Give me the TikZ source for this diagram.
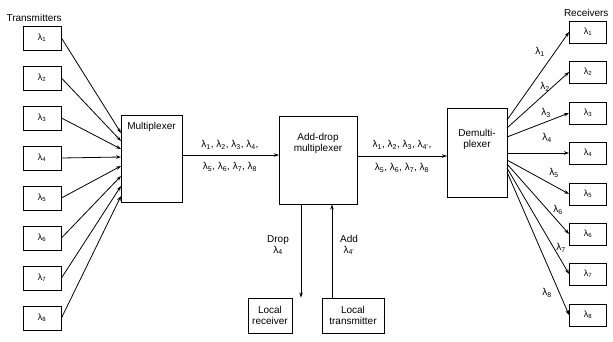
\documentclass[tikz,border=0pt]{standalone}
\usepackage{fontspec}
\setmainfont{Liberation Sans}
\usetikzlibrary{arrows.meta}
\newcommand{\lam}[1]{λ\textsubscript{#1}}
\begin{document}
\begin{tikzpicture}[x=1pt,y=-1pt,
  every node/.style={font=\fontsize{10}{11}\selectfont},
  box/.style={draw,line width=0.9pt,inner sep=0pt},
  txbox/.style={box,minimum width=38pt,minimum height=24pt},
  rxbox/.style={box,minimum width=37pt,minimum height=22pt},
  conn/.style={line width=0.8pt,-{Stealth[length=5pt,width=3.5pt]}},
  lbl/.style={inner sep=1pt}]
\useasboundingbox (0,0) rectangle (613,341);
% titles
\node[anchor=west] (ttitle) at (3,18) {Transmitters};
\node[anchor=east] (rtitle) at (612,13) {Receivers};
% main boxes
\node[box,minimum width=61pt,minimum height=87pt] (mux) at (151.5,158.5) {};
\node[anchor=north,lbl] (muxl) at (151.5,121) {Multiplexer};
\node[box,minimum width=78pt,minimum height=88pt] (adm) at (318,160) {};
\node[anchor=north,align=center,lbl] (adml) at (318,132) {Add-drop\\multiplexer};
\node[box,minimum width=60pt,minimum height=89pt] (dmx) at (477,152.5) {};
\node[anchor=north,align=center,lbl] (dmxl) at (477,128) {Demulti-\\plexer};
\node[box,minimum width=44pt,minimum height=35pt,align=center] (lrx) at (270,315.5) {Local\\receiver};
\node[box,minimum width=62pt,minimum height=35pt,align=center] (ltx) at (353,315.5) {Local\\transmitter};
% transmitters
\foreach \i/\ey in {1/133,2/141,3/149,4/157,5/166,6/176,7/186,8/196}{
  \node[txbox,font=\fontsize{9}{10}\selectfont] (t\i) at (42,{38+40*(\i-1)}) {\lam{\i}};
  \coordinate (m\i) at (121,\ey);
  \draw[conn] (t\i.east) -- (m\i);
}
% receivers
\foreach \i/\cy/\sy in {1/32/120,2/72/128,3/113/137,4/153/153,5/194/160,6/234/164,7/274/168,8/315/172}{
  \node[rxbox,font=\fontsize{9}{10}\selectfont] (r\i) at (588,\cy) {\lam{\i}};
  \coordinate (d\i) at (507,\sy);
  \draw[conn] (d\i) -- (r\i.west);
}
\foreach \i/\x/\y in {1/540/52,2/545/87,3/546/113,4/547/138,5/554/173,6/558/210,7/561/248,8/547/293}{
  \node[lbl] (rl\i) at (\x,\y) {\lam{\i}};
}
% trunk lines
\coordinate (a1) at (182,155);
\coordinate (a2) at (279,155);
\draw[conn] (a1) -- (a2);
\node[lbl] (la1) at (230,145) {\lam{1}, \lam{2}, \lam{3}, \lam{4},};
\node[lbl] (la2) at (230,167) {\lam{5}, \lam{6}, \lam{7}, \lam{8}};
\coordinate (b1) at (357,156);
\coordinate (b2) at (447,156);
\draw[conn] (b1) -- (b2);
\node[lbl] (lb1) at (402,145) {\lam{1}, \lam{2}, \lam{3}, \lam{4'},};
\node[lbl] (lb2) at (402,168) {\lam{5}, \lam{6}, \lam{7}, \lam{8}};
% drop / add
\draw[conn] (adm.south -| 301,0) -- (lrx.north -| 301,0);
\draw[conn] (ltx.north -| 332,0) -- (adm.south -| 332,0);
\node[lbl,align=center] (dropl) at (278,245) {Drop\\\lam{4}};
\node[lbl,align=center] (addl) at (349,245) {Add\\\lam{4'}};
\end{tikzpicture}
\end{document}
